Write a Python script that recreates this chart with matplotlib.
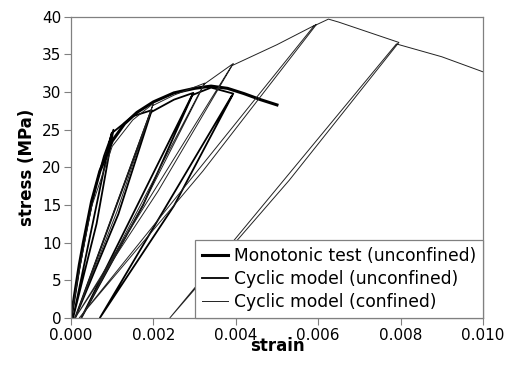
import matplotlib
matplotlib.use("Agg")
import matplotlib.pyplot as plt

# Monotonic test (unconfined)
mono_strain = [0, 0.0001, 0.0002, 0.0003, 0.0005, 0.0007, 0.001, 0.0013, 0.0016,
               0.002, 0.0025, 0.003, 0.0034, 0.0038, 0.0042, 0.0046, 0.005]
mono_stress = [0, 3.5, 7.0, 10.0, 15.5, 19.5, 23.5, 25.8, 27.3,
               28.7, 29.9, 30.5, 30.8, 30.5, 29.8, 29.0, 28.3]

# Cyclic model (unconfined): envelope + unload/reload loops
unc_strain = [0, 0.0001, 0.0002, 0.0004, 0.0006, 0.0008, 0.00103,
              0.00062, 0.00005, 0.00098, 0.0015, 0.00196,
              0.00115, 0.0001, 0.00193, 0.0025, 0.00297,
              0.00175, 0.00025, 0.00294, 0.0034, 0.00394,
              0.0025, 0.0007, 0.0039]
unc_stress = [0, 3.3, 6.6, 12.5, 17.5, 21.5, 25.0,
              12.5, 0, 24.5, 26.8, 27.6,
              13.8, 0, 27.3, 29.0, 29.9,
              15.0, 0, 29.6, 30.6, 29.8,
              14.9, 0, 29.5]

# Cyclic model (confined): envelope + unload/reload loops
con_strain = [0, 0.0002, 0.0005, 0.001, 0.0015, 0.002,
              0.00112, 0.0001, 0.00198, 0.0025, 0.00325,
              0.0018, 0.00025, 0.00322, 0.00394,
              0.00212, 0.0001, 0.0039, 0.005, 0.00596,
              0.0032, 0.0002, 0.0059, 0.00625, 0.0065, 0.00796,
              0.0053, 0.0024, 0.0079, 0.009, 0.010]
con_stress = [0, 6.3, 14.8, 22.8, 26.3, 28.5,
              14.2, 0, 28.2, 29.6, 31.2,
              15.6, 0, 31.0, 33.8,
              16.9, 0, 33.5, 36.3, 39.0,
              19.5, 0, 38.8, 39.7, 39.3, 36.6,
              18.3, 0, 36.4, 34.7, 32.7]

x_ticks = [0.000, 0.002, 0.004, 0.006, 0.008, 0.010]
y_ticks = [0, 5, 10, 15, 20, 25, 30, 35, 40]

fig = plt.figure(figsize=(5.11, 3.83), dpi=100)
ax = fig.add_axes([0.139, 0.170, 0.806, 0.786])

l1, = ax.plot(mono_strain, mono_stress, color="black", lw=2.2,
              label="Monotonic test (unconfined)")
l2, = ax.plot(unc_strain, unc_stress, color="black", lw=1.3,
              label="Cyclic model (unconfined)")
l3, = ax.plot(con_strain, con_stress, color="#222222", lw=0.7,
              label="Cyclic model (confined)")

ax.set_xlim(0, 0.010)
ax.set_ylim(0, 40)
ax.set_xticks(x_ticks)
ax.set_xticklabels([f"{v:.3f}" for v in x_ticks])
ax.set_yticks(y_ticks)
ax.tick_params(direction="out", length=5, width=0.8, color="#808080",
               labelsize=11, pad=2)
for s in ax.spines.values():
    s.set_color("#808080")
    s.set_linewidth(0.9)

ax.set_xlabel("strain", fontsize=12, fontweight="bold", labelpad=-4)
ax.set_ylabel("stress (MPa)", fontsize=12, fontweight="bold", labelpad=4)

leg = ax.legend(handles=[l1, l2, l3], loc="lower right", fontsize=12.3,
                frameon=True, fancybox=False, borderaxespad=0,
                handlelength=1.5, handletextpad=0.35, borderpad=0.4,
                labelspacing=0.3)
leg.get_frame().set_edgecolor("#808080")
leg.get_frame().set_linewidth(0.9)
leg.get_frame().set_alpha(1)

fig.savefig("out.png", dpi=100)
